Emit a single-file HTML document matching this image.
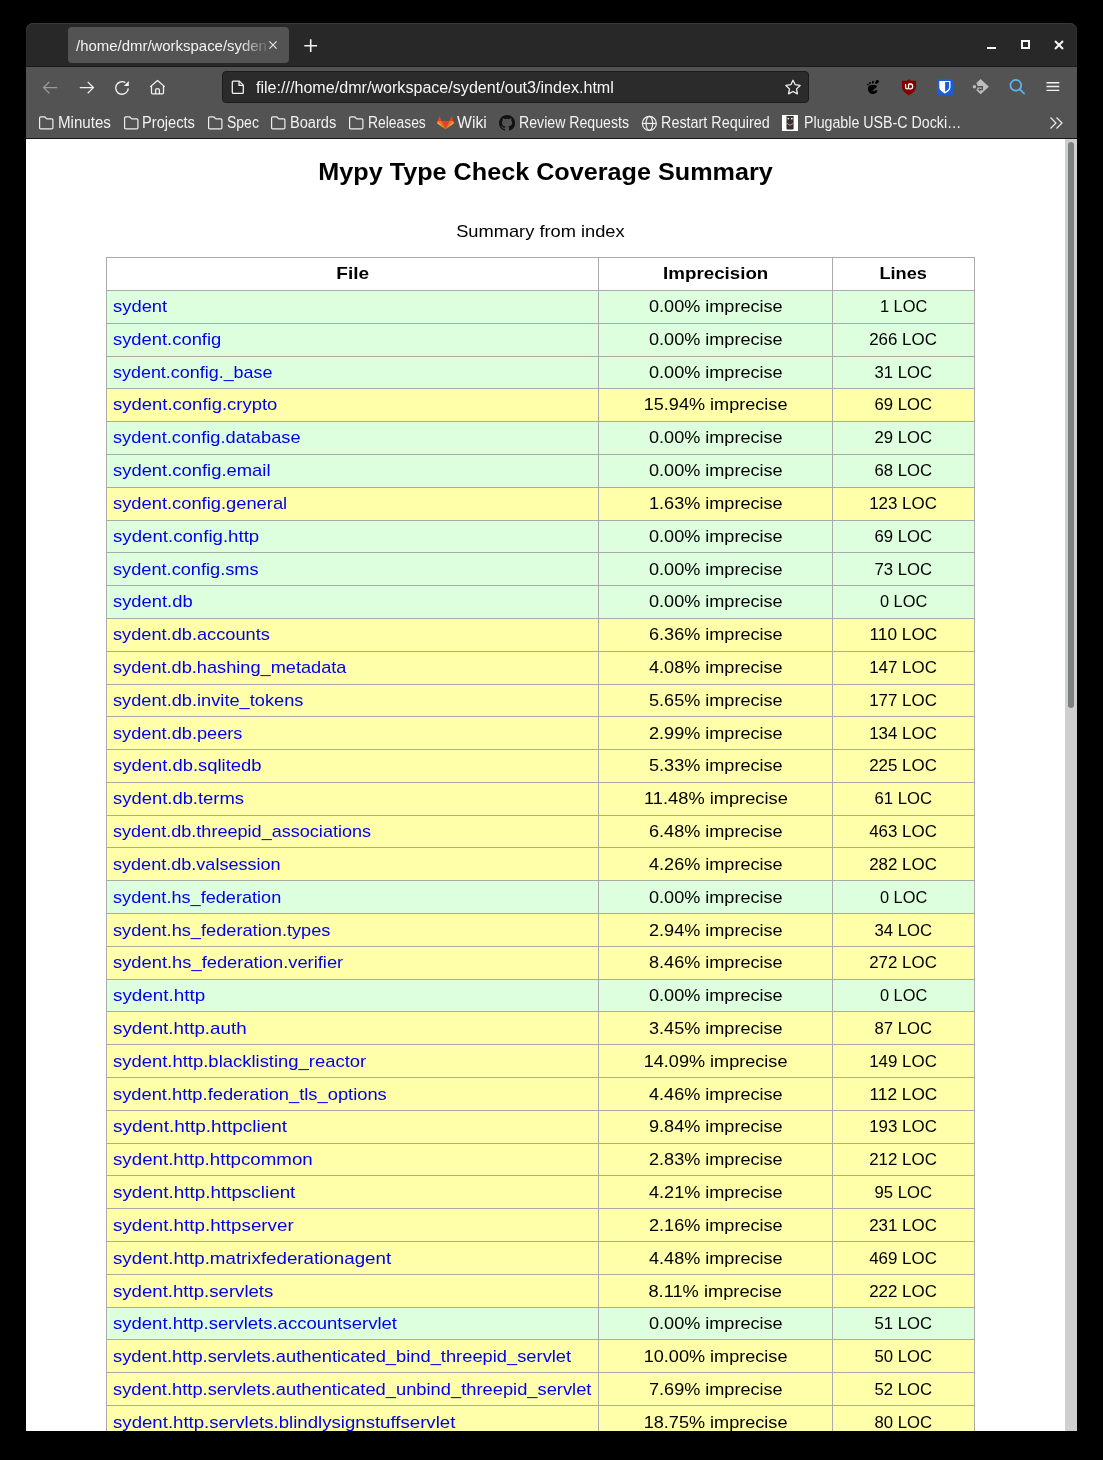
<!DOCTYPE html><html><head><meta charset="utf-8"><title>Mypy Type Check Coverage Summary</title><style>
html,body{margin:0;padding:0}
body{width:1103px;height:1460px;background:#000;position:relative;overflow:hidden;font-family:"Liberation Sans",sans-serif}
#win{position:absolute;left:26px;top:23px;width:1051px;height:1408px;background:#282828;border-radius:7.5px 7.5px 0 0;overflow:hidden;box-shadow:inset 0 1px 0 #383838,inset 1px 0 0 #2e2e2e,inset -1px 0 0 #2e2e2e}
#content{position:absolute;left:26px;top:139px;width:1051px;height:1292px;background:#fff;overflow:hidden}
#inner{position:absolute;left:-26px;top:-139px;width:1103px;height:1460px}
.h1{position:absolute;left:26px;width:1039px;top:159px;text-align:center;font-weight:bold;font-size:23px;line-height:26px;color:#000}
.h1 span{display:inline-block;transform:scaleX(1.095);}
.cap{position:absolute;left:106px;width:869px;top:222px;text-align:center;font-size:17px;line-height:19px;color:#000}
.cap span{display:inline-block;transform:scaleX(1.077)}
.row{position:absolute;left:106px;width:869px;border-top:1px solid #aaa;box-sizing:border-box}
.row.hdr{background:#fff}
.row.q0{background:#dfd}
.row.q1{background:#ffa}
.vl{position:absolute;top:257px;height:1300px;width:1px;background:#aaa}
.t{position:absolute;height:19px;line-height:19px;font-size:17px;white-space:nowrap;color:#000}
.t a{color:#0000ee;display:inline-block;transform-origin:0 50%;transform:scaleX(1.077)}
.t span{display:inline-block;transform:scaleX(1.077)}
.th{font-weight:bold}
.c1{left:113px}
.th.c1{left:107px;width:491px;text-align:center}
.c2{left:599px;width:233px;text-align:center}
.c3{left:833px;width:141px;text-align:center}
#sb{position:absolute;left:1039px;top:0;width:12px;height:1292px;background:#cfcfcf}
#thumb{position:absolute;left:3px;top:3px;width:6px;height:566px;border-radius:3px;background:#7d8081}
.ln{position:absolute;left:26px;width:1051px;height:1px}
#tb{position:absolute;left:26px;top:67px;width:1051px;height:71px;background:#535353}
#tab{position:absolute;left:68px;top:27px;width:221px;height:36px;border-radius:4px;background:#535353}
.ui{position:absolute;white-space:nowrap;color:#f2f2f2;line-height:18px}
.ui span{display:inline-block;transform-origin:0 50%}
#tabt{-webkit-mask-image:linear-gradient(90deg,#000 0,#000 163px,rgba(0,0,0,0.12) 192px);mask-image:linear-gradient(90deg,#000 0,#000 163px,rgba(0,0,0,0.12) 192px)}
.ic{position:absolute;overflow:visible}
.wc{position:absolute;background:#f6f6f6}
#url{position:absolute;left:222px;top:71px;width:585px;height:30px;border:1px solid #1b1b1b;border-radius:4px;background:#2b2b2b}

</style></head><body>
<div id="win"></div>
<div class="ln" style="top:66px;background:#1b1b1b"></div>
<div id="tb"></div>
<div class="ln" style="top:138px;background:#141414"></div>
<!-- tab -->
<div id="tab"></div>
<div class="ui" id="tabt" style="left:76px;top:37px;width:192px;overflow:hidden;font-size:14.5px"><span style="transform:scaleX(1.03)">/home/dmr/workspace/syden</span></div>
<svg class="ic" style="left:267px;top:39px" width="12" height="12" viewBox="0 0 12 12"><path d="M2.4 2.4L9.6 9.6M9.6 2.4L2.4 9.6" stroke="#e6e6e6" stroke-width="1.15" fill="none"/></svg>
<svg class="ic" style="left:302px;top:37px" width="17" height="17" viewBox="0 0 17 17"><path d="M8.7 2.3V15.1M2.3 8.7H15.1" stroke="#f2f2f2" stroke-width="1.6" fill="none"/></svg>
<!-- window controls -->
<div class="wc" style="left:987px;top:47px;width:9px;height:2px"></div>
<div class="wc" style="left:1021px;top:40px;width:5px;height:5px;background:none;border:2px solid #f6f6f6"></div>
<svg class="ic" style="left:1053px;top:39px" width="12" height="12" viewBox="0 0 12 12"><path d="M2 2L10 10M10 2L2 10" stroke="#f6f6f6" stroke-width="2" fill="none"/></svg>
<!-- nav icons -->
<svg class="ic" style="left:42px;top:80px" width="16" height="16" viewBox="0 0 16 16"><path d="M15.2 7.6H1.8M7.3 1.9L1.6 7.6L7.3 13.3" stroke="#9c9c9c" stroke-width="1.3" fill="none"/></svg>
<svg class="ic" style="left:78.5px;top:80px" width="16" height="16" viewBox="0 0 16 16"><path d="M0.8 7.6H14.2M8.7 1.9L14.4 7.6L8.7 13.3" stroke="#f2f2f2" stroke-width="1.3" fill="none"/></svg>
<svg class="ic" style="left:114px;top:80px" width="16" height="16" viewBox="0 0 16 16"><path d="M14.3 8.4A6.3 6.3 0 1 1 11.3 2.6" stroke="#f2f2f2" stroke-width="1.35" fill="none"/><path d="M14.8 0.9V6.1H9.8Z" fill="#f2f2f2"/></svg>
<svg class="ic" style="left:149px;top:79px" width="17" height="17" viewBox="0 0 17 17"><path d="M1.2 7.9L8.5 1.5L15.8 7.9M2.5 6.8V13.8Q2.5 14.9 3.6 14.9H13.4Q14.5 14.9 14.5 13.8V6.8M6.6 14.9V10.8Q6.6 9.5 8.5 9.5Q10.4 9.5 10.4 10.8V14.9" stroke="#f2f2f2" stroke-width="1.25" fill="none" stroke-linejoin="round"/></svg>
<!-- url bar -->
<div id="url"></div>
<svg class="ic" style="left:230px;top:79px" width="16" height="16" viewBox="0 0 16 16"><path d="M2.3 3.1Q2.3 2.1 3.3 2.1H9.3L13.3 6.1V13.4Q13.3 14.4 12.3 14.4H3.3Q2.3 14.4 2.3 13.4Z" stroke="#f2f2f2" stroke-width="1.3" fill="none" stroke-linejoin="round"/><path d="M9 2.2V6.4H13.2" stroke="#f2f2f2" stroke-width="1.3" fill="none"/></svg>
<div class="ui" style="left:256px;top:79px;font-size:16px;color:#f6f6f6"><span style="transform:scaleX(1.006)">file:///home/dmr/workspace/sydent/out3/index.html</span></div>
<svg class="ic" style="left:784px;top:78px" width="18" height="18" viewBox="0 0 18 18" ><path d="M9.00 2.25L11.20 6.72L16.13 7.43L12.57 10.91L13.41 15.82L9.00 13.50L4.59 15.82L5.43 10.91L1.87 7.43L6.80 6.72Z" stroke="#f0f0f0" stroke-width="1.3" fill="none" stroke-linejoin="round"/></svg>
<!-- extension icons -->
<svg class="ic" style="left:865px;top:79px" width="16" height="16" viewBox="0 0 16 16" ><g fill="#000"><ellipse cx="2.9" cy="5.5" rx="0.95" ry="0.85"/><ellipse cx="4.9" cy="3.9" rx="0.95" ry="1.0"/><ellipse cx="7.9" cy="3.2" rx="0.95" ry="1.45" transform="rotate(10 7.9 3.2)"/><ellipse cx="12" cy="2.9" rx="1.5" ry="2.3" transform="rotate(40 12 2.9)"/><path d="M5.5 6.2C8.5 5.6 12.2 6.0 11.9 7.6C11.6 9.0 9.2 9.9 8.3 11.2C7.8 12.0 8.6 12.6 9.6 11.9C10.4 11.3 11.3 10.6 12.0 11.2C12.6 11.8 12.0 13.4 10.6 14.3C9.2 15.2 7.0 15.3 5.6 14.5C3.6 13.3 2.6 10.9 2.9 9.0C3.2 7.4 4.2 6.5 5.5 6.2Z"/></g></svg>
<svg class="ic" style="left:901px;top:79px" width="16" height="17" viewBox="0 0 16 17" ><path d="M0.9 1.7H5.8L8 0.3L10.2 1.7H15.1V8.3C15.1 11.5 11.3 14.3 8 16.5C4.7 14.3 0.9 11.5 0.9 8.3Z" fill="#800000"/><path d="M4.6 4.9V7.9Q4.6 9.8 6.1 9.8Q7.6 9.8 7.6 7.9V4.9" stroke="#fff" stroke-width="1.3" fill="none"/><path d="M7.6 5.0H9.4Q11.7 5.0 11.7 7.4Q11.7 9.8 9.4 9.8H7.6" stroke="#fff" stroke-width="1.3" fill="none"/></svg>
<svg class="ic" style="left:937px;top:79px" width="16" height="16" viewBox="0 0 16 16" ><rect x="0" y="0" width="16" height="16" rx="2" fill="#175ddc"/><path d="M2.3 1.9H13.5V8.3C13.5 11.0 10.8 13.0 7.9 14.4C5.0 13.0 2.3 11.0 2.3 8.3Z" fill="#fff"/><path d="M8.1 3.1H12.1V8.2C12.1 10.0 10.3 11.6 8.1 12.7Z" fill="#175ddc"/></svg>
<svg class="ic" style="left:972px;top:78px" width="18" height="18" viewBox="0 0 18 18" ><circle cx="2.4" cy="8.7" r="1.7" fill="#bdbdbd"/><path d="M8.6 1.1L16.9 8.7L8.6 16.3L4.4 12.3L5.4 10.2V7.2L4.4 5.1Z" fill="#bdbdbd"/><path d="M4.6 8.7H10.3V11.6H7.6" stroke="#535353" stroke-width="1.4" fill="none"/><path d="M8.2 9.7V13.5L5.9 11.6Z" fill="#535353"/></svg>
<svg class="ic" style="left:1009px;top:78px" width="17" height="17" viewBox="0 0 17 17"><circle cx="6.8" cy="7.3" r="5.4" stroke="#5db8f2" stroke-width="1.7" fill="none"/><path d="M10.6 11.1L15.6 16" stroke="#5db8f2" stroke-width="1.7" fill="none"/></svg>
<svg class="ic" style="left:1046px;top:80px" width="14" height="13" viewBox="0 0 14 13"><path d="M0.5 2.7H13.3M0.5 6.5H13.3M0.5 10.4H13.3" stroke="#f2f2f2" stroke-width="1.4" fill="none"/></svg>
<!-- bookmarks -->
<svg class="ic" style="left:38px;top:114px" width="16" height="16" viewBox="0 0 16 16"><path d="M1.6 4.1Q1.6 2.9 2.8 2.9H6.3Q7.0 2.9 7.5 3.5L8.1 4.4Q8.4 4.9 9.1 4.9H13.7Q14.9 4.9 14.9 6.1V13.7Q14.9 14.9 13.7 14.9H2.8Q1.6 14.9 1.6 13.7Z" stroke="#eeeeee" stroke-width="1.2" fill="none"/></svg>
<div class="ui bmt" style="left:57.5px;top:114px;font-size:16px"><span style="transform:scaleX(0.9441)">Minutes</span></div>
<svg class="ic" style="left:123px;top:114px" width="16" height="16" viewBox="0 0 16 16"><path d="M1.6 4.1Q1.6 2.9 2.8 2.9H6.3Q7.0 2.9 7.5 3.5L8.1 4.4Q8.4 4.9 9.1 4.9H13.7Q14.9 4.9 14.9 6.1V13.7Q14.9 14.9 13.7 14.9H2.8Q1.6 14.9 1.6 13.7Z" stroke="#eeeeee" stroke-width="1.2" fill="none"/></svg>
<div class="ui bmt" style="left:142.2px;top:114px;font-size:16px"><span style="transform:scaleX(0.9152)">Projects</span></div>
<svg class="ic" style="left:207px;top:114px" width="16" height="16" viewBox="0 0 16 16"><path d="M1.6 4.1Q1.6 2.9 2.8 2.9H6.3Q7.0 2.9 7.5 3.5L8.1 4.4Q8.4 4.9 9.1 4.9H13.7Q14.9 4.9 14.9 6.1V13.7Q14.9 14.9 13.7 14.9H2.8Q1.6 14.9 1.6 13.7Z" stroke="#eeeeee" stroke-width="1.2" fill="none"/></svg>
<div class="ui bmt" style="left:226.5px;top:114px;font-size:16px"><span style="transform:scaleX(0.8745)">Spec</span></div>
<svg class="ic" style="left:270px;top:114px" width="16" height="16" viewBox="0 0 16 16"><path d="M1.6 4.1Q1.6 2.9 2.8 2.9H6.3Q7.0 2.9 7.5 3.5L8.1 4.4Q8.4 4.9 9.1 4.9H13.7Q14.9 4.9 14.9 6.1V13.7Q14.9 14.9 13.7 14.9H2.8Q1.6 14.9 1.6 13.7Z" stroke="#eeeeee" stroke-width="1.2" fill="none"/></svg>
<div class="ui bmt" style="left:290.3px;top:114px;font-size:16px"><span style="transform:scaleX(0.9132)">Boards</span></div>
<svg class="ic" style="left:348px;top:114px" width="16" height="16" viewBox="0 0 16 16"><path d="M1.6 4.1Q1.6 2.9 2.8 2.9H6.3Q7.0 2.9 7.5 3.5L8.1 4.4Q8.4 4.9 9.1 4.9H13.7Q14.9 4.9 14.9 6.1V13.7Q14.9 14.9 13.7 14.9H2.8Q1.6 14.9 1.6 13.7Z" stroke="#eeeeee" stroke-width="1.2" fill="none"/></svg>
<div class="ui bmt" style="left:368.0px;top:114px;font-size:16px"><span style="transform:scaleX(0.8663)">Releases</span></div>
<svg class="ic" style="left:437px;top:115px" width="17" height="15" viewBox="0 0 17 15"><path d="M2.4 0.7L4.6 6.1H0.7Z M14.6 0.7L16.3 6.1H12.4Z M4.6 6.1H12.4L8.5 14.3Z" fill="#e24329"/><path d="M0.7 6.1H4.6L8.5 14.3Z M16.3 6.1H12.4L8.5 14.3Z" fill="#fc6d26"/><path d="M0.7 6.1L0.1 8.6L8.5 14.3Z M16.3 6.1L16.9 8.6L8.5 14.3Z" fill="#fca326"/></svg>
<div class="ui bmt" style="left:456.9px;top:114px;font-size:16px"><span style="transform:scaleX(0.9861)">Wiki</span></div>
<svg class="ic" style="left:499px;top:115px" width="16" height="16" viewBox="0 0 16 16"><path fill="#111" d="M8 0C3.58 0 0 3.58 0 8c0 3.54 2.29 6.53 5.47 7.59.4.07.55-.17.55-.38 0-.19-.01-.82-.01-1.49-2.01.37-2.53-.49-2.69-.94-.09-.23-.48-.94-.82-1.13-.28-.15-.68-.52-.01-.53.63-.01 1.08.58 1.23.82.72 1.21 1.870.87 2.33.66.07-.52.28-.87.51-1.07-1.78-.2-3.64-.89-3.64-3.95 0-.87.31-1.59.82-2.15-.08-.2-.36-1.02.08-2.12 0 0 .67-.21 2.2.82.64-.18 1.32-.27 2-.27.68 0 1.36.09 2 .27 1.530-1.04 2.2-.82 2.2-.82.44 1.1.16 1.92.08 2.12.51.56.82 1.27.82 2.15 0 3.07-1.87 3.75-3.65 3.95.29.25.54.73.54 1.48 0 1.07-.01 1.93-.01 2.2 0 .21.15.46.55.38A8.013 8.013 0 0 0 16 8c0-4.42-3.58-8-8-8z"/></svg>
<div class="ui bmt" style="left:518.6px;top:114px;font-size:16px"><span style="transform:scaleX(0.8835)">Review Requests</span></div>
<svg class="ic" style="left:641px;top:115px" width="17" height="17" viewBox="0 0 17 17"><circle cx="8.35" cy="8.45" r="7.0" stroke="#eeeeee" stroke-width="1.2" fill="none"/><ellipse cx="8.35" cy="8.45" rx="3.3" ry="7.0" stroke="#eeeeee" stroke-width="1.2" fill="none"/><path d="M1.3 8.45H15.4" stroke="#eeeeee" stroke-width="1.2"/></svg>
<div class="ui bmt" style="left:660.7px;top:114px;font-size:16px"><span style="transform:scaleX(0.8987)">Restart Required</span></div>
<svg class="ic" style="left:782px;top:115px" width="16" height="16" viewBox="0 0 16 16"><rect x="0" y="0" width="16" height="16" fill="#fff"/><path d="M4.5 1H11.6V13.6Q11.6 14.6 10.6 14.6H5.5Q4.5 14.6 4.5 13.6Z" fill="#3b2f2c"/><circle cx="6.3" cy="3.6" r="0.9" fill="#fff"/><circle cx="9.8" cy="3.6" r="0.9" fill="#fff"/><path d="M5 8.4L8 10.3L11.2 8.4" stroke="#bbb" stroke-width="0.8" fill="none"/></svg>
<div class="ui bmt" style="left:804.1px;top:114px;font-size:16px"><span style="transform:scaleX(0.8888)">Plugable USB-C Docki…</span></div>
<svg class="ic" style="left:1049px;top:115px" width="16" height="16" viewBox="0 0 16 16"><path d="M1.5 2.5L7 8L1.5 13.5M7.5 2.5L13 8L7.5 13.5" stroke="#ececec" stroke-width="1.2" fill="none"/></svg>

<div id="content"><div id="inner">
<div class="h1"><span style="transform:scaleX(1.0951)">Mypy Type Check Coverage Summary</span></div>
<div class="cap"><span style="transform:scaleX(1.0744)">Summary from index</span></div>
<div id="tbl"><div class="row hdr" style="top:257px;height:33px"></div><div class="t th c1" style="top:264px"><span style="transform:scaleX(1.1179)">File</span></div><div class="t th c2" style="top:264px"><span style="transform:scaleX(1.1023)">Imprecision</span></div><div class="t th c3" style="top:264px"><span style="transform:scaleX(1.0686)">Lines</span></div><div class="row q0" style="top:290px;height:33px"></div><div class="t c1" style="top:297px"><a style="transform:scaleX(1.0823)">sydent</a></div><div class="t c2" style="top:297px"><span style="transform:scaleX(1.0630)">0.00% imprecise</span></div><div class="t c3" style="top:297px"><span style="transform:scaleX(0.9641)">1 LOC</span></div><div class="row q0" style="top:323px;height:33px"></div><div class="t c1" style="top:330px"><a style="transform:scaleX(1.0806)">sydent.config</a></div><div class="t c2" style="top:330px"><span style="transform:scaleX(1.0630)">0.00% imprecise</span></div><div class="t c3" style="top:330px"><span style="transform:scaleX(0.9954)">266 LOC</span></div><div class="row q0" style="top:356px;height:32px"></div><div class="t c1" style="top:363px"><a style="transform:scaleX(1.0548)">sydent.config._base</a></div><div class="t c2" style="top:363px"><span style="transform:scaleX(1.0630)">0.00% imprecise</span></div><div class="t c3" style="top:363px"><span style="transform:scaleX(0.9824)">31 LOC</span></div><div class="row q1" style="top:388px;height:33px"></div><div class="t c1" style="top:395px"><a style="transform:scaleX(1.0874)">sydent.config.crypto</a></div><div class="t c2" style="top:395px"><span style="transform:scaleX(1.0641)">15.94% imprecise</span></div><div class="t c3" style="top:395px"><span style="transform:scaleX(0.9824)">69 LOC</span></div><div class="row q0" style="top:421px;height:33px"></div><div class="t c1" style="top:428px"><a style="transform:scaleX(1.0725)">sydent.config.database</a></div><div class="t c2" style="top:428px"><span style="transform:scaleX(1.0630)">0.00% imprecise</span></div><div class="t c3" style="top:428px"><span style="transform:scaleX(0.9824)">29 LOC</span></div><div class="row q0" style="top:454px;height:33px"></div><div class="t c1" style="top:461px"><a style="transform:scaleX(1.0821)">sydent.config.email</a></div><div class="t c2" style="top:461px"><span style="transform:scaleX(1.0630)">0.00% imprecise</span></div><div class="t c3" style="top:461px"><span style="transform:scaleX(0.9824)">68 LOC</span></div><div class="row q1" style="top:487px;height:33px"></div><div class="t c1" style="top:494px"><a style="transform:scaleX(1.0777)">sydent.config.general</a></div><div class="t c2" style="top:494px"><span style="transform:scaleX(1.0630)">1.63% imprecise</span></div><div class="t c3" style="top:494px"><span style="transform:scaleX(0.9954)">123 LOC</span></div><div class="row q0" style="top:520px;height:32px"></div><div class="t c1" style="top:527px"><a style="transform:scaleX(1.0971)">sydent.config.http</a></div><div class="t c2" style="top:527px"><span style="transform:scaleX(1.0630)">0.00% imprecise</span></div><div class="t c3" style="top:527px"><span style="transform:scaleX(0.9824)">69 LOC</span></div><div class="row q0" style="top:552px;height:33px"></div><div class="t c1" style="top:560px"><a style="transform:scaleX(1.0702)">sydent.config.sms</a></div><div class="t c2" style="top:560px"><span style="transform:scaleX(1.0630)">0.00% imprecise</span></div><div class="t c3" style="top:560px"><span style="transform:scaleX(0.9824)">73 LOC</span></div><div class="row q0" style="top:585px;height:33px"></div><div class="t c1" style="top:592px"><a style="transform:scaleX(1.0799)">sydent.db</a></div><div class="t c2" style="top:592px"><span style="transform:scaleX(1.0630)">0.00% imprecise</span></div><div class="t c3" style="top:592px"><span style="transform:scaleX(0.9641)">0 LOC</span></div><div class="row q1" style="top:618px;height:33px"></div><div class="t c1" style="top:625px"><a style="transform:scaleX(1.0703)">sydent.db.accounts</a></div><div class="t c2" style="top:625px"><span style="transform:scaleX(1.0630)">6.36% imprecise</span></div><div class="t c3" style="top:625px"><span style="transform:scaleX(1.0143)">110 LOC</span></div><div class="row q1" style="top:651px;height:33px"></div><div class="t c1" style="top:658px"><a style="transform:scaleX(1.0691)">sydent.db.hashing_metadata</a></div><div class="t c2" style="top:658px"><span style="transform:scaleX(1.0630)">4.08% imprecise</span></div><div class="t c3" style="top:658px"><span style="transform:scaleX(0.9954)">147 LOC</span></div><div class="row q1" style="top:684px;height:32px"></div><div class="t c1" style="top:691px"><a style="transform:scaleX(1.0717)">sydent.db.invite_tokens</a></div><div class="t c2" style="top:691px"><span style="transform:scaleX(1.0630)">5.65% imprecise</span></div><div class="t c3" style="top:691px"><span style="transform:scaleX(0.9954)">177 LOC</span></div><div class="row q1" style="top:716px;height:33px"></div><div class="t c1" style="top:724px"><a style="transform:scaleX(1.0703)">sydent.db.peers</a></div><div class="t c2" style="top:724px"><span style="transform:scaleX(1.0630)">2.99% imprecise</span></div><div class="t c3" style="top:724px"><span style="transform:scaleX(0.9954)">134 LOC</span></div><div class="row q1" style="top:749px;height:33px"></div><div class="t c1" style="top:756px"><a style="transform:scaleX(1.0837)">sydent.db.sqlitedb</a></div><div class="t c2" style="top:756px"><span style="transform:scaleX(1.0630)">5.33% imprecise</span></div><div class="t c3" style="top:756px"><span style="transform:scaleX(0.9954)">225 LOC</span></div><div class="row q1" style="top:782px;height:33px"></div><div class="t c1" style="top:789px"><a style="transform:scaleX(1.0835)">sydent.db.terms</a></div><div class="t c2" style="top:789px"><span style="transform:scaleX(1.0741)">11.48% imprecise</span></div><div class="t c3" style="top:789px"><span style="transform:scaleX(0.9824)">61 LOC</span></div><div class="row q1" style="top:815px;height:32px"></div><div class="t c1" style="top:822px"><a style="transform:scaleX(1.0626)">sydent.db.threepid_associations</a></div><div class="t c2" style="top:822px"><span style="transform:scaleX(1.0630)">6.48% imprecise</span></div><div class="t c3" style="top:822px"><span style="transform:scaleX(0.9954)">463 LOC</span></div><div class="row q1" style="top:847px;height:33px"></div><div class="t c1" style="top:855px"><a style="transform:scaleX(1.0623)">sydent.db.valsession</a></div><div class="t c2" style="top:855px"><span style="transform:scaleX(1.0630)">4.26% imprecise</span></div><div class="t c3" style="top:855px"><span style="transform:scaleX(0.9954)">282 LOC</span></div><div class="row q0" style="top:880px;height:33px"></div><div class="t c1" style="top:888px"><a style="transform:scaleX(1.0662)">sydent.hs_federation</a></div><div class="t c2" style="top:888px"><span style="transform:scaleX(1.0630)">0.00% imprecise</span></div><div class="t c3" style="top:888px"><span style="transform:scaleX(0.9641)">0 LOC</span></div><div class="row q1" style="top:913px;height:33px"></div><div class="t c1" style="top:921px"><a style="transform:scaleX(1.0702)">sydent.hs_federation.types</a></div><div class="t c2" style="top:921px"><span style="transform:scaleX(1.0630)">2.94% imprecise</span></div><div class="t c3" style="top:921px"><span style="transform:scaleX(0.9824)">34 LOC</span></div><div class="row q1" style="top:946px;height:33px"></div><div class="t c1" style="top:953px"><a style="transform:scaleX(1.0780)">sydent.hs_federation.verifier</a></div><div class="t c2" style="top:953px"><span style="transform:scaleX(1.0630)">8.46% imprecise</span></div><div class="t c3" style="top:953px"><span style="transform:scaleX(0.9954)">272 LOC</span></div><div class="row q0" style="top:979px;height:32px"></div><div class="t c1" style="top:986px"><a style="transform:scaleX(1.1080)">sydent.http</a></div><div class="t c2" style="top:986px"><span style="transform:scaleX(1.0630)">0.00% imprecise</span></div><div class="t c3" style="top:986px"><span style="transform:scaleX(0.9641)">0 LOC</span></div><div class="row q1" style="top:1011px;height:33px"></div><div class="t c1" style="top:1019px"><a style="transform:scaleX(1.1042)">sydent.http.auth</a></div><div class="t c2" style="top:1019px"><span style="transform:scaleX(1.0630)">3.45% imprecise</span></div><div class="t c3" style="top:1019px"><span style="transform:scaleX(0.9824)">87 LOC</span></div><div class="row q1" style="top:1044px;height:33px"></div><div class="t c1" style="top:1052px"><a style="transform:scaleX(1.0851)">sydent.http.blacklisting_reactor</a></div><div class="t c2" style="top:1052px"><span style="transform:scaleX(1.0641)">14.09% imprecise</span></div><div class="t c3" style="top:1052px"><span style="transform:scaleX(0.9954)">149 LOC</span></div><div class="row q1" style="top:1077px;height:33px"></div><div class="t c1" style="top:1085px"><a style="transform:scaleX(1.0767)">sydent.http.federation_tls_options</a></div><div class="t c2" style="top:1085px"><span style="transform:scaleX(1.0630)">4.46% imprecise</span></div><div class="t c3" style="top:1085px"><span style="transform:scaleX(1.0143)">112 LOC</span></div><div class="row q1" style="top:1110px;height:33px"></div><div class="t c1" style="top:1117px"><a style="transform:scaleX(1.1160)">sydent.http.httpclient</a></div><div class="t c2" style="top:1117px"><span style="transform:scaleX(1.0630)">9.84% imprecise</span></div><div class="t c3" style="top:1117px"><span style="transform:scaleX(0.9954)">193 LOC</span></div><div class="row q1" style="top:1143px;height:32px"></div><div class="t c1" style="top:1150px"><a style="transform:scaleX(1.1010)">sydent.http.httpcommon</a></div><div class="t c2" style="top:1150px"><span style="transform:scaleX(1.0630)">2.83% imprecise</span></div><div class="t c3" style="top:1150px"><span style="transform:scaleX(0.9954)">212 LOC</span></div><div class="row q1" style="top:1175px;height:33px"></div><div class="t c1" style="top:1183px"><a style="transform:scaleX(1.1090)">sydent.http.httpsclient</a></div><div class="t c2" style="top:1183px"><span style="transform:scaleX(1.0630)">4.21% imprecise</span></div><div class="t c3" style="top:1183px"><span style="transform:scaleX(0.9824)">95 LOC</span></div><div class="row q1" style="top:1208px;height:33px"></div><div class="t c1" style="top:1216px"><a style="transform:scaleX(1.1055)">sydent.http.httpserver</a></div><div class="t c2" style="top:1216px"><span style="transform:scaleX(1.0630)">2.16% imprecise</span></div><div class="t c3" style="top:1216px"><span style="transform:scaleX(0.9954)">231 LOC</span></div><div class="row q1" style="top:1241px;height:33px"></div><div class="t c1" style="top:1249px"><a style="transform:scaleX(1.1022)">sydent.http.matrixfederationagent</a></div><div class="t c2" style="top:1249px"><span style="transform:scaleX(1.0630)">4.48% imprecise</span></div><div class="t c3" style="top:1249px"><span style="transform:scaleX(0.9954)">469 LOC</span></div><div class="row q1" style="top:1274px;height:33px"></div><div class="t c1" style="top:1282px"><a style="transform:scaleX(1.0948)">sydent.http.servlets</a></div><div class="t c2" style="top:1282px"><span style="transform:scaleX(1.0739)">8.11% imprecise</span></div><div class="t c3" style="top:1282px"><span style="transform:scaleX(0.9954)">222 LOC</span></div><div class="row q0" style="top:1307px;height:32px"></div><div class="t c1" style="top:1314px"><a style="transform:scaleX(1.0889)">sydent.http.servlets.accountservlet</a></div><div class="t c2" style="top:1314px"><span style="transform:scaleX(1.0630)">0.00% imprecise</span></div><div class="t c3" style="top:1314px"><span style="transform:scaleX(0.9824)">51 LOC</span></div><div class="row q1" style="top:1339px;height:33px"></div><div class="t c1" style="top:1347px"><a style="transform:scaleX(1.0773)">sydent.http.servlets.authenticated_bind_threepid_servlet</a></div><div class="t c2" style="top:1347px"><span style="transform:scaleX(1.0641)">10.00% imprecise</span></div><div class="t c3" style="top:1347px"><span style="transform:scaleX(0.9824)">50 LOC</span></div><div class="row q1" style="top:1372px;height:33px"></div><div class="t c1" style="top:1380px"><a style="transform:scaleX(1.0771)">sydent.http.servlets.authenticated_unbind_threepid_servlet</a></div><div class="t c2" style="top:1380px"><span style="transform:scaleX(1.0630)">7.69% imprecise</span></div><div class="t c3" style="top:1380px"><span style="transform:scaleX(0.9824)">52 LOC</span></div><div class="row q1" style="top:1405px;height:33px"></div><div class="t c1" style="top:1413px"><a style="transform:scaleX(1.0957)">sydent.http.servlets.blindlysignstuffservlet</a></div><div class="t c2" style="top:1413px"><span style="transform:scaleX(1.0641)">18.75% imprecise</span></div><div class="t c3" style="top:1413px"><span style="transform:scaleX(0.9824)">80 LOC</span></div><div class="vl" style="left:106px"></div><div class="vl" style="left:598px"></div><div class="vl" style="left:832px"></div><div class="vl" style="left:974px"></div></div>
</div><div id="sb"><div id="thumb"></div></div>
</div>
</body></html>
